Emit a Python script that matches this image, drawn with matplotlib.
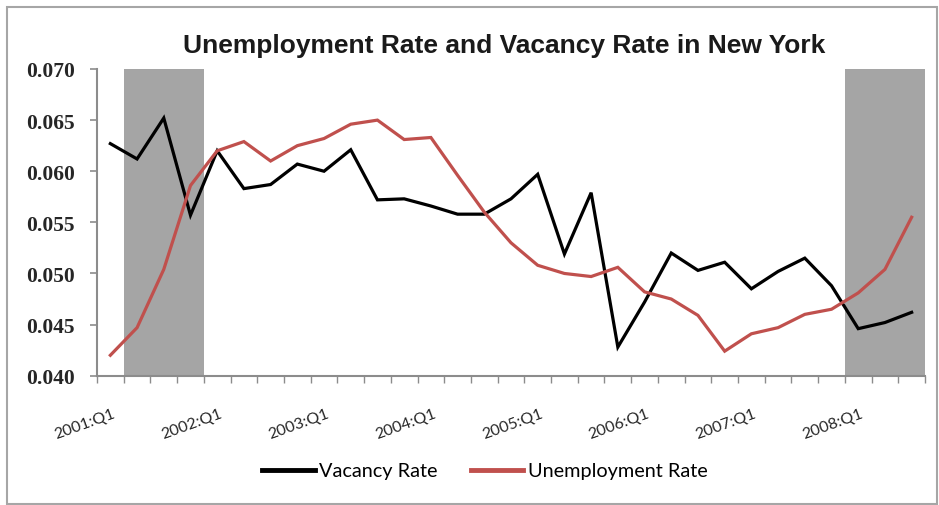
import matplotlib
matplotlib.use("Agg")
import matplotlib.pyplot as plt
import matplotlib.transforms as mtransforms
from matplotlib.patches import Rectangle
import numpy as np

# Quarterly categories 2001:Q1 .. 2008:Q3
years = list(range(2001, 2009))
quarters = [f"{y}:Q{q}" for y in years for q in range(1, 5)][:31]

vacancy_rate = [0.0627, 0.0612, 0.0652, 0.0557, 0.0620, 0.0583, 0.0587, 0.0607,
                0.0600, 0.0621, 0.0572, 0.0573, 0.0566, 0.0558, 0.0558, 0.0573,
                0.0597, 0.0519, 0.0579, 0.0428, 0.0472, 0.0520, 0.0503, 0.0511,
                0.0485, 0.0502, 0.0515, 0.0488, 0.0446, 0.0452, 0.0462]

unemployment_rate = [0.0420, 0.0447, 0.0504, 0.0586, 0.0620, 0.0629, 0.0610, 0.0625,
                     0.0632, 0.0646, 0.0650, 0.0631, 0.0633, 0.0596, 0.0560, 0.0530,
                     0.0508, 0.0500, 0.0497, 0.0506, 0.0482, 0.0475, 0.0459, 0.0424,
                     0.0441, 0.0447, 0.0460, 0.0465, 0.0481, 0.0504, 0.0555]

# Recession periods (first and last quarter, inclusive)
recessions = [("2001:Q2", "2001:Q4"), ("2008:Q1", "2008:Q3")]

tick_labels = [f"{y}:Q1" for y in years]
y_ticks = [0.040, 0.045, 0.050, 0.055, 0.060, 0.065, 0.070]

W, H = 939, 506
fig = plt.figure(figsize=(W / 100, H / 100), dpi=100)
fig.patch.set_facecolor("white")

# chart-area border
fig.add_artist(Rectangle((7 / W, 1 - 505 / H), 930 / W, 497 / H,
                         transform=fig.transFigure, fill=False,
                         edgecolor="#a6a6a6", linewidth=1.5))

ax = fig.add_axes([97 / W, 1 - 376.7 / H, 828 / W, 306.7 / H])
x = np.arange(len(quarters))

for start, end in recessions:
    i0, i1 = quarters.index(start), quarters.index(end)
    ax.axvspan(i0 - 0.5, i1 + 0.5, color="#a5a5a5", linewidth=0, zorder=1)

ax.plot(x, vacancy_rate, color="black", linewidth=2.3, label="Vacancy Rate",
        zorder=3, solid_joinstyle="miter")
ax.plot(x, unemployment_rate, color="#c0504d", linewidth=2.3,
        label="Unemployment Rate", zorder=4, solid_joinstyle="miter")

ax.set_xlim(-0.5, len(quarters) - 0.5)
ax.set_ylim(0.040, 0.070)

for side in ("top", "right"):
    ax.spines[side].set_visible(False)
for side in ("left", "bottom"):
    ax.spines[side].set_color("#8c8c8c")
    ax.spines[side].set_linewidth(1.5)

# y axis
ax.set_yticks(y_ticks)
ax.set_yticklabels([f"{v:.3f}" for v in y_ticks],
                   fontfamily="Liberation Serif", fontweight="bold",
                   fontsize=15.5, color="#262626")
ax.tick_params(axis="y", direction="out", length=5, width=1.2,
               color="#8c8c8c", pad=11)

# x axis: tick marks on category boundaries
ax.set_xticks(np.arange(-0.5, len(quarters), 1.0))
ax.set_xticklabels([])
ax.tick_params(axis="x", direction="out", length=5, width=1.0,
               color="#8c8c8c")

# rotated category labels for every Q1, anchored at their top-right corner
label_trans = ax.get_xaxis_transform() + mtransforms.ScaledTranslation(
    2 / 100, -30 / 100, fig.dpi_scale_trans)
for t in tick_labels:
    if t in quarters:
        ax.text(quarters.index(t), 0, t, transform=label_trans,
                rotation=20, rotation_mode="anchor", ha="right", va="top",
                fontfamily="Lato", fontsize=11.5, color="#262626",
                clip_on=False)

fig.text(0.5 * (178 + 830) / W, 1 - 46 / H,
         "Unemployment Rate and Vacancy Rate in New York",
         ha="center", va="center", fontsize=19, fontweight="bold",
         fontfamily="Liberation Sans", color="#1a1a1a")

leg = fig.legend(loc="center", bbox_to_anchor=(485 / W, 1 - 472 / H),
                 ncol=2, frameon=False, handlelength=2.65,
                 handletextpad=0.25, columnspacing=1.65,
                 prop={"family": "Lato", "size": 14.3})
for line in leg.get_lines():
    line.set_linewidth(3.5)

fig.savefig("out.png", dpi=100, facecolor="white")
